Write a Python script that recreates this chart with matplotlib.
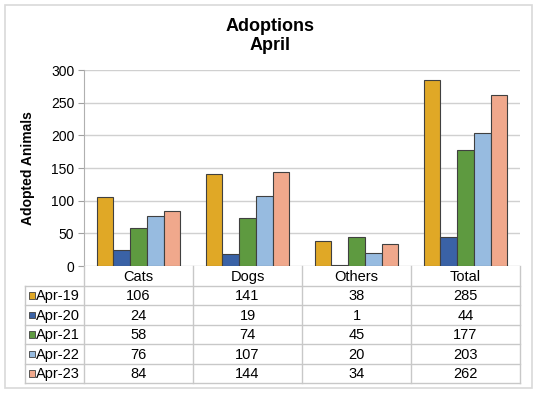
import matplotlib.pyplot as plt
from matplotlib.patches import Rectangle
import numpy as np

plt.rcParams['font.family'] = ['Liberation Sans', 'DejaVu Sans']

## Donnees
categories = ['Cats', 'Dogs', 'Others', 'Total']
series = ['Apr-19', 'Apr-20', 'Apr-21', 'Apr-22', 'Apr-23']
apr19 = [106, 141, 38, 285]
apr20 = [24, 19, 1, 44]
apr21 = [58, 74, 45, 177]
apr22 = [76, 107, 20, 203]
apr23 = [84, 144, 34, 262]
valeurs = [apr19, apr20, apr21, apr22, apr23]
couleurs = ['#E0A826', '#3A62A6', '#5E9A40', '#97BBE0', '#F0A88C']

W, H = 541, 400
fig = plt.figure(figsize=(W/100, H/100), dpi=100)

def px(x0, y0, x1, y1):  # rectangle en pixels -> coordonnees figure
    return [x0/W, 1 - y1/H, (x1-x0)/W, (y1-y0)/H]

# cadre autour du graphique
fig.patches.append(Rectangle((5/W, 1-388/H), 527/W, 383/H, transform=fig.transFigure,
                             fill=False, edgecolor='#d9d9d9', lw=1.2))

## Graphique principal
ax = fig.add_axes(px(84, 70, 520, 266))
n = len(series)
groupe = 0.77
larg = groupe / n
x = np.arange(len(categories))
for i in range(n):
    ax.bar(x - groupe/2 + larg*(i+0.5), valeurs[i], width=larg, color=couleurs[i],
           edgecolor='#404040', lw=0.8, zorder=3)

ax.set_xlim(-0.5, len(categories)-0.5)
ax.set_ylim(0, 300)
ax.set_yticks(range(0, 301, 50))
ax.tick_params(axis='y', labelsize=10, length=4, color='#a0a0a0', pad=3)
ax.set_xticks([])
ax.grid(axis='y', color='#d0d0d0', lw=1, zorder=0)
for s in ['top', 'right', 'bottom']:
    ax.spines[s].set_visible(False)
ax.spines['left'].set_color('#b0b0b0')
ax.set_ylabel('Adopted Animals', fontsize=10, fontweight='bold')
ax.yaxis.set_label_coords(-49/436, 0.5)

fig.text(0.5, 1-36/H, 'Adoptions\nApril', ha='center', va='center',
         fontsize=13, fontweight='bold', linespacing=1.1)

## Tableau de donnees
tab = fig.add_axes(px(25, 266, 520, 383))
gauche = -0.5 - 59/109
nl = n + 1
tab.set_xlim(gauche, len(categories)-0.5)
tab.set_ylim(nl, 0)
tab.axis('off')
lc = '#c8c8c8'
for j in range(len(categories)+1):
    tab.plot([j-0.5, j-0.5], [0, nl], color=lc, lw=1, clip_on=False)
tab.plot([gauche, gauche], [1, nl], color=lc, lw=1, clip_on=False)
for r in range(1, nl+1):
    tab.plot([gauche, len(categories)-0.5], [r, r], color=lc, lw=1, clip_on=False)

fs = 10.5
for j, c in enumerate(categories):
    tab.text(j, 0.55, c, ha='center', va='center', fontsize=fs)
for i in range(n):
    for j in range(len(categories)):
        tab.text(j, i+1.55, str(valeurs[i][j]), ha='center', va='center', fontsize=fs)
    tab.add_patch(Rectangle((gauche+0.04, i+1.34), 0.055, 0.34, facecolor=couleurs[i],
                            edgecolor='#404040', lw=0.6, clip_on=False))
    tab.text(gauche+0.105, i+1.55, series[i], ha='left', va='center', fontsize=fs)

fig.savefig('out.png', dpi=100)
